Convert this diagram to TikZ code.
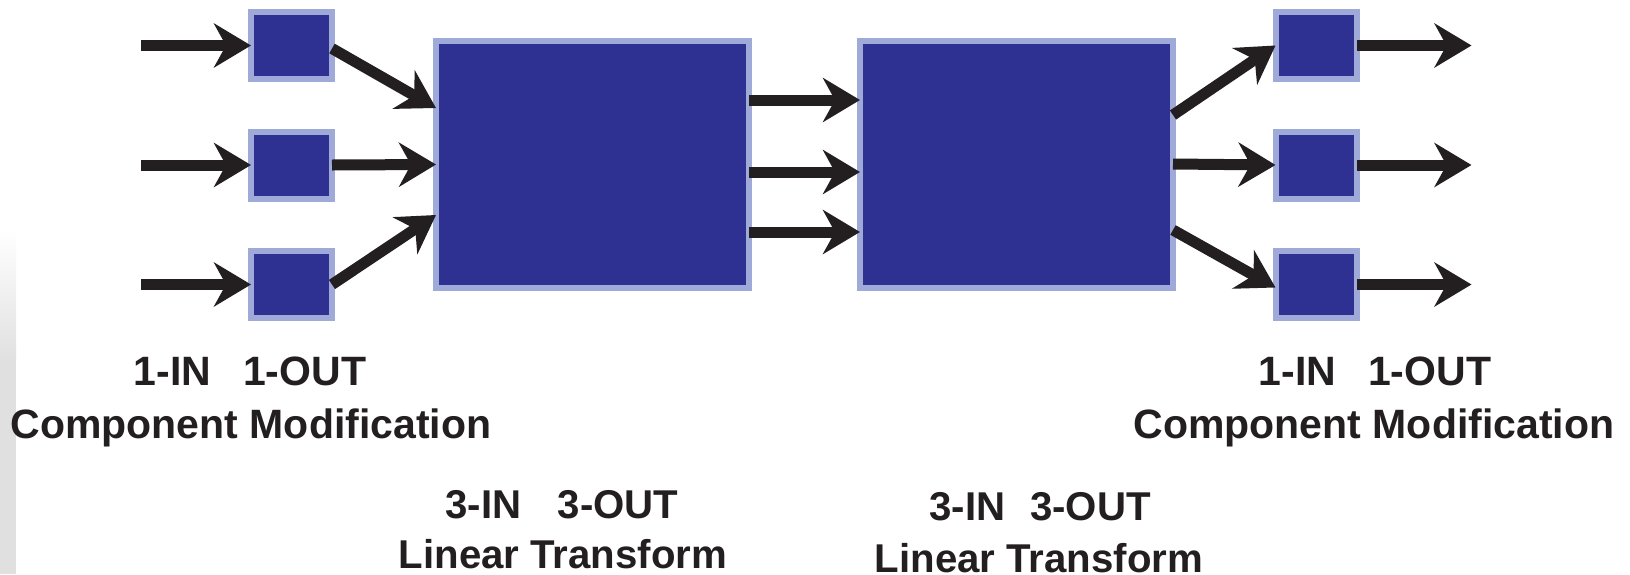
\documentclass[tikz,border=0pt]{standalone}
\usepackage{fontspec}
\setmainfont{Liberation Sans}
\usetikzlibrary{calc,positioning,arrows.meta}
\definecolor{boxblue}{HTML}{2E3192}
\definecolor{rimblue}{HTML}{A0AAD8}
\definecolor{ink}{HTML}{231F20}
\tikzstyle{sbox}=[rectangle, draw=rimblue, fill=boxblue, line width=3pt, outer sep=0pt, inner sep=0pt, minimum width=40.5pt, minimum height=33.5pt]
\tikzstyle{tbox}=[sbox, minimum width=156.5pt, minimum height=123.5pt]
\tikzstyle{arr}=[color=ink, line width=5.5pt, -{Stealth[length=18.5pt, width=22pt, inset=6pt]}]
\tikzstyle{lbl}=[font=\bfseries\fontsize{20.5}{24}\selectfont, text=ink, inner sep=0pt, anchor=base]
\tikzstyle{mlbl}=[lbl, font=\bfseries\fontsize{20.1}{24}\selectfont]

\begin{document}
\begin{tikzpicture}[x=0.5pt,y=-0.5pt]
\useasboundingbox (0,0) rectangle (1630,574);
% faint band at the left edge
\shade[top color=white, bottom color=black!12] (0,230) rectangle (16,360);
\fill[black!12] (0,360) rectangle (16,574);

% the two 3-in 3-out blocks
\node[tbox] (T1) at (592.5,164.5) {};
\node[tbox] (T2) at (1016.5,164) {};

% 1-in 1-out blocks
\node[sbox] (a1) at (291.5,45.5) {};
\node[sbox, below=26.25pt of a1] (a2) {};
\node[sbox, below=26.25pt of a2] (a3) {};
\node[sbox] (b1) at (1316,45.5) {};
\node[sbox, below=26.25pt of b1] (b2) {};
\node[sbox, below=26.25pt of b2] (b3) {};

\foreach \k in {1,2,3}{
  \coordinate (in\k) at ($(a\k.west)+(-110,0)$);
  \coordinate (out\k) at ($(b\k.east)+(115,0)$);
  \draw[arr] (in\k) -- (a\k.west);
  \draw[arr] (b\k.east) -- (out\k);
}

\draw[arr] ($(a1.east)+(0,3)$) -- ($(T1.west)+(0,-56.5)$);
\draw[arr] (a2.east) -- (T1.west);
\draw[arr] (a3.east) -- ($(T1.west)+(0,50.5)$);

\foreach \dy in {-64.5,7.5,67.5}
  \draw[arr] ($(T1.east)+(0,\dy)$) -- ($(T2.west)+(0,\dy+0.5)$);

\draw[arr] ($(T2.east)+(0,-49)$) -- (b1.west);
\draw[arr] (T2.east) -- (b2.west);
\draw[arr] ($(T2.east)+(0,66)$) -- ($(b3.west)+(0,3)$);

% captions
\node[lbl] (la1) at (250,385) {1-IN\hspace{0.78em}1-OUT};
\node[lbl] (la2) at (251,438) {Component Modification};
\node[lbl] (lb1) at (1375,385) {1-IN\hspace{0.78em}1-OUT};
\node[lbl] (lb2) at (1374,438) {Component Modification};
\node[mlbl] (lt1) at (562,518) {3-IN\hspace{0.9em}3-OUT};
\node[mlbl] (lt2) at (563,568) {Linear Transform};
\node[mlbl] (lu1) at (1040,520) {3-IN\hspace{0.62em}3-OUT};
\node[mlbl] (lu2) at (1039,572) {Linear Transform};
\end{tikzpicture}
\end{document}
